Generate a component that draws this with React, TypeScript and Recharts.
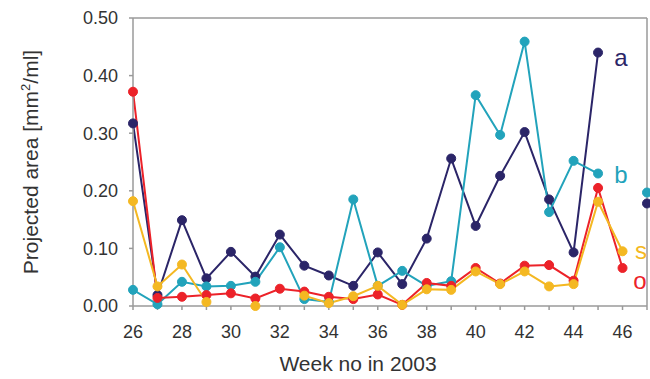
import { LineChart, Line, XAxis, YAxis, ReferenceLine } from 'recharts'

const weeks = [26, 27, 28, 29, 30, 31, 32, 33, 34, 35, 36, 37, 38, 39, 40, 41, 42, 43, 44, 45, 46, 47]
const seriesA = [0.317, 0.019, 0.149, 0.048, 0.094, 0.051, 0.124, 0.07, 0.053, 0.035, 0.093, 0.038, 0.117, 0.256, 0.139, 0.226, 0.302, 0.185, 0.093, 0.44, null, 0.178]
const seriesB = [0.028, 0.003, 0.042, 0.034, 0.035, 0.042, 0.102, 0.012, 0.007, 0.185, 0.035, 0.061, 0.035, 0.043, 0.366, 0.297, 0.459, 0.163, 0.252, 0.23, null, 0.197]
const seriesS = [0.182, 0.034, 0.072, 0.007, null, 0.0, null, 0.018, 0.005, 0.017, 0.035, 0.002, 0.029, 0.028, 0.06, 0.038, 0.06, 0.034, 0.038, 0.181, 0.095, null]
const seriesO = [0.372, 0.014, 0.016, 0.019, 0.022, 0.013, 0.03, 0.025, 0.016, 0.012, 0.02, 0.002, 0.04, 0.035, 0.066, 0.039, 0.07, 0.071, 0.044, 0.205, 0.066, null]

const xTicks = weeks
const yTicks = [0, 0.1, 0.2, 0.3, 0.4, 0.5]

const NAVY = '#2b2568'
const CYAN = '#22a3bb'
const YELLOW = '#f4b822'
const RED = '#ec2229'
const FRAME = '#9a9a9a'
const TEXT = '#333333'
const FONT = '"Liberation Sans", Arial, sans-serif'

const data = weeks.map((w, i) => ({
  week: w,
  a: seriesA[i],
  b: seriesB[i],
  s: seriesS[i],
  o: seriesO[i],
}))

const dot = (color: string) => ({ r: 4.5, fill: color, stroke: color, strokeWidth: 1 })

export default function App() {
  return (
    <div style={{ position: 'absolute', left: 0, top: 0, width: 650, height: 379, background: '#fff', fontFamily: FONT }}>
      <LineChart
        width={650}
        height={379}
        data={data}
        margin={{ top: 18, right: 3, bottom: 43, left: 0 }}
      >
        <XAxis
          dataKey="week"
          type="number"
          domain={[26, 47]}
          ticks={xTicks}
          interval={0}
          tickFormatter={(v: number) => (v % 2 === 0 && v < 47 ? String(v) : '')}
          height={30}
          stroke={FRAME}
          strokeWidth={1.5}
          tickSize={4}
          tickMargin={15}
          tick={{ fill: TEXT, fontSize: 18, fontFamily: FONT }}
        />
        <YAxis
          type="number"
          domain={[0, 0.5]}
          ticks={yTicks}
          width={133}
          stroke={FRAME}
          strokeWidth={1.5}
          tickSize={4}
          tickMargin={11}
          tickFormatter={(v: number) => v.toFixed(2)}
          tick={{ fill: TEXT, fontSize: 18, fontFamily: FONT }}
        />
        <ReferenceLine y={0.5} stroke={FRAME} strokeWidth={1.5} />
        <ReferenceLine x={47} stroke={FRAME} strokeWidth={1.5} />
        <Line type="linear" dataKey="a" stroke={NAVY} strokeWidth={2} dot={dot(NAVY)} isAnimationActive={false} />
        <Line type="linear" dataKey="b" stroke={CYAN} strokeWidth={2} dot={dot(CYAN)} isAnimationActive={false} />
        <Line type="linear" dataKey="o" stroke={RED} strokeWidth={2} dot={dot(RED)} isAnimationActive={false} />
        <Line type="linear" dataKey="s" stroke={YELLOW} strokeWidth={2} dot={dot(YELLOW)} isAnimationActive={false} />
      </LineChart>
      <svg width={650} height={379} style={{ position: 'absolute', left: 0, top: 0, pointerEvents: 'none' }}>
        <text
          transform="translate(38,162) rotate(-90)"
          textAnchor="middle"
          fontSize={21}
          fill={TEXT}
          fontFamily={FONT}
        >
          Projected area [mm<tspan fontSize={13} dy={-8}>2</tspan><tspan dy={8}>/ml]</tspan>
        </text>
        <text x={358} y={371} textAnchor="middle" fontSize={21} fill={TEXT} fontFamily={FONT}>
          Week no in 2003
        </text>
        <text x={621} y={66} textAnchor="middle" fontSize={24} fill={NAVY} fontFamily={FONT}>a</text>
        <text x={621} y={183} textAnchor="middle" fontSize={24} fill={CYAN} fontFamily={FONT}>b</text>
        <text x={641} y={259} textAnchor="middle" fontSize={24} fill={YELLOW} fontFamily={FONT}>s</text>
        <text x={640} y={289} textAnchor="middle" fontSize={24} fill={RED} fontFamily={FONT}>o</text>
      </svg>
    </div>
  )
}
